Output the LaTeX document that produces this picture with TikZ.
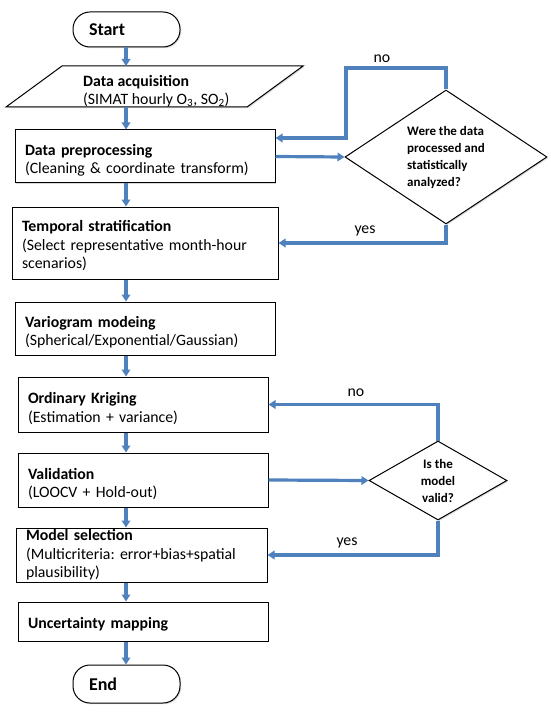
\documentclass[tikz,border=0pt]{standalone}
\usepackage{fontspec}
\setmainfont{Carlito}
\usetikzlibrary{arrows.meta,shapes.geometric,shadows}
\definecolor{flowblue}{RGB}{79,129,189}
\frenchspacing
\tikzset{>={Triangle[length=7pt,width=8.5pt]},every node/.style={font=\fontsize{15.8}{18.5}\selectfont},
flow/.style={draw=flowblue,line width=3.2pt,->},
shade/.style={drop shadow={shadow xshift=1.2pt,shadow yshift=-1.2pt,opacity=.3}},
outline/.style={draw,line width=1pt,fill=white,shade},
stepbox/.style={outline,inner xsep=10pt,inner ysep=0pt,align=left,text width=#1},
lower/.style={execute at begin node={\rule{0pt}{#1}}},
terminal/.style={outline,rounded corners=17pt,inner xsep=16pt,inner ysep=0pt,align=left,text width=75pt,font=\fontsize{18}{20}\selectfont\bfseries},
decision/.style={diamond,aspect=1.5,outline,inner sep=0pt,align=center,font=\fontsize{13}{17}\selectfont\bfseries},
lbl/.style={inner sep=0pt}}

\begin{document}
\begin{tikzpicture}[x=1pt,y=-1pt]
\useasboundingbox (0,0) rectangle (550,714);
% main column
\node[terminal,minimum height=35pt] (start) at (126.5,29.5) {Start};
\draw[outline] (6,107)--(62,66)--(303,66)--(247,107)--cycle;
\node[inner sep=0pt,align=left,anchor=west] (acq) at (83,91) {\textbf{Data acquisition}\\(SIMAT hourly O\textsubscript{3}, SO\textsubscript{2})};
\coordinate (acqN) at (126,66);\coordinate (acqS) at (126,107);
\node[stepbox=240pt,lower=19pt,minimum height=53pt] (prep) at (145,156.5) {\textbf{Data preprocessing}\\(Cleaning \& coordinate transform)};
\node[stepbox=246pt,lower=17pt,minimum height=72pt] (temp) at (145,243) {\textbf{Temporal stratification}\\(Select representative month-hour\\scenarios)};
\node[stepbox=240pt,lower=19pt,minimum height=53pt] (vario) at (145,328.5) {\textbf{Variogram modeing}\\(Spherical/Exponential/Gaussian)};
\node[stepbox=230pt,lower=19pt,minimum height=55pt] (krig) at (143,404.5) {\textbf{Ordinary Kriging}\\(Estimation + variance)};
\node[stepbox=230pt,lower=19pt,minimum height=54pt] (valid) at (143,480) {\textbf{Validation}\\(LOOCV + Hold-out)};
\node[stepbox=231pt,minimum height=54pt] (msel) at (141.5,555) {\textbf{Model selection}\\(Multicriteria: error+bias+spatial\\plausibility)};
\node[stepbox=230pt,lower=17pt,minimum height=39pt] (unc) at (143,621.5) {\textbf{Uncertainty mapping}};
\node[terminal,minimum height=38pt] (end) at (126.5,684) {End};
% decisions
\node[decision,align=left,minimum width=202pt,minimum height=134pt] (dec1) at (446,157) {Were the data\\processed and\\statistically\\analyzed?};
\node[decision,minimum width=138pt,minimum height=79pt] (dec2) at (438,480.5) {Is the\\model\\valid?};
\coordinate (axis) at (126,0);\coordinate (noA) at (346,68);\coordinate (noB) at (346,138);
\draw[flow] (start.south -| axis)--(acqN);\draw[flow] (acqS)--(prep.north -| axis);
\foreach \a/\b in {prep/temp,temp/vario,vario/krig,krig/valid,valid/msel,msel/unc,unc/end}{\draw[flow] (\a.south -| axis)--(\b.north -| axis);}
\draw[flow] (prep.east)--(dec1.west);\draw[flow] (dec1.north)|-(noA)--(noB)--(noB -| prep.east);\draw[flow] (dec1.south)|-(temp.east);
\draw[flow] (valid.east)--(dec2.west);\draw[flow] (dec2.north)|-(krig.east);\draw[flow] (dec2.south)|-(msel.east);
\node[lbl] (no1) at (382,59){no};\node[lbl] (yes1) at (365,231){yes};
\node[lbl] (no2) at (356,393){no};\node[lbl] (yes2) at (347,543){yes};
\end{tikzpicture}
\end{document}
